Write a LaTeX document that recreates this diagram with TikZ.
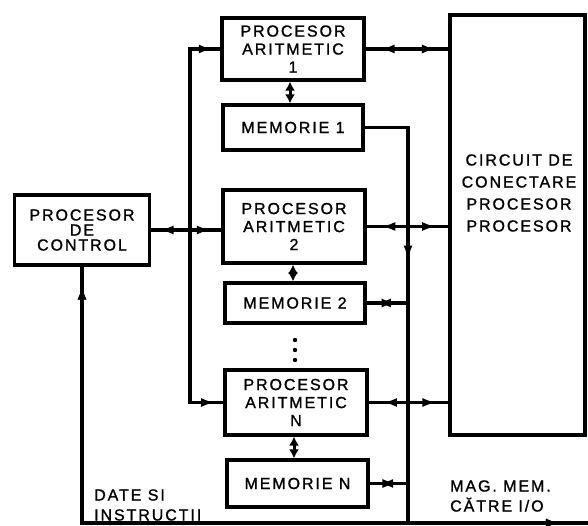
\documentclass[tikz,border=0pt]{standalone}
\usepackage{fontspec}
\newfontfamily\lbl[LetterSpace=12,FakeBold=1.2]{Liberation Sans}
\usetikzlibrary{arrows.meta,decorations.markings}
\tikzset{
  mytip/.tip={Latex[length=14pt,width=9pt]},
  blk/.style={draw, line width=3.2pt, rectangle, align=center, inner sep=0pt,
    font=\lbl\fontsize{16}{18}\selectfont},
  conn/.style={line width=3.2pt},
  twoway/.style 2 args={postaction={decorate}, decoration={markings,
     mark=at position #1 with {\arrowreversed{mytip}},
     mark=at position #2 with {\arrow{mytip}}}},
  oneway/.style={postaction={decorate}, decoration={markings,
     mark=at position #1 with {\arrow{mytip}}}},
  backway/.style={postaction={decorate}, decoration={markings,
     mark=at position #1 with {\arrowreversed{mytip}}}},
  dbl/.style={line width=3pt, {Latex[length=9pt,width=10pt]}-{Latex[length=9pt,width=10pt]}},
  txt/.style={font=\lbl\fontsize{16}{20}\selectfont, align=left, inner sep=0pt}
}
\begin{document}
\begin{tikzpicture}[x=1pt,y=-1pt]
\useasboundingbox (0,0) rectangle (588,526);
% boxes
\node[blk, minimum width=135pt, minimum height=70pt] (ctrl) at (82,230) {PROCESOR\\[-3pt]DE\\[-3pt]CONTROL};
\node[blk, minimum width=142pt, minimum height=62pt] (pa1) at (293,49) {PROCESOR\\ARITMETIC\\1};
\node[blk, minimum width=140pt, minimum height=45pt] (mem1) at (293,127.5) {MEMORIE 1};
\node[blk, minimum width=142pt, minimum height=73pt] (pa2) at (294,226.5) {PROCESOR\\ARITMETIC\\2};
\node[blk, minimum width=140pt, minimum height=40pt] (mem2) at (295,303) {MEMORIE 2};
\node[blk, minimum width=142pt, minimum height=65pt] (paN) at (296,402.5) {PROCESOR\\ARITMETIC\\N};
\node[blk, minimum width=141pt, minimum height=47pt] (memN) at (297.5,483.5) {MEMORIE N};
\node[blk, minimum width=135pt, minimum height=420pt] (circ) at (517.5,225) {};
\node[blk, draw=none, font=\lbl\fontsize{16}{22}\selectfont] (circtxt) at (519,193) {CIRCUIT DE\\CONECTARE\\PROCESOR\\PROCESOR};
% dots between memory 2 and PA N
\foreach \yy in {340,350,360} \fill (295,\yy) circle (2.2pt);
% coordinates
\coordinate (busT) at (190,49);
\coordinate (busB) at (190,402.5);
\coordinate (vbot) at (408,523);
\coordinate (br) at (588,523);
% left bus
\draw[conn] (pa1.west) -- (busT) -- (busB) -- (paN.west);
\draw[conn, oneway=0.75] (busT) -- (pa1.west);
\draw[conn, oneway=0.75] (busB) -- (paN.west);
\draw[conn, twoway={0.12}{0.85}] (ctrl.east) -- (ctrl.east -| pa2.west);
% to circuit
\draw[conn, twoway={0.18}{0.85}] (pa1.east) -- (pa1.east -| circ.west);
\draw[conn, twoway={0.18}{0.85}] (pa2.east) -- (pa2.east -| circ.west);
\draw[conn, twoway={0.18}{0.85}] (paN.east) -- (paN.east -| circ.west);
% memory bus
\draw[conn, oneway=0.4] (mem1.east) -| (vbot);
\draw[conn, twoway={0.3}{0.75}] (mem2.east -| vbot) -- (mem2.east);
\draw[conn, twoway={0.3}{0.75}] (memN.east -| vbot) -- (memN.east);
% PA-memory links
\draw[dbl] (pa1.south -| 290,0) -- (mem1.north -| 290,0);
\draw[dbl] (pa2.south -| 293,0) -- (mem2.north -| 293,0);
\draw[dbl] (paN.south -| 294,0) -- (memN.north -| 294,0);
% data line
\draw[conn, backway=0.025, oneway=0.963] (ctrl.south) |- (br);
% labels
\node[txt, anchor=west] (lab1) at (94,505) {DATE SI\\INSTRUCTII};
\node[txt, anchor=west] (lab2) at (450,496) {MAG. MEM.\\CĂTRE I/O};
\end{tikzpicture}
\end{document}
